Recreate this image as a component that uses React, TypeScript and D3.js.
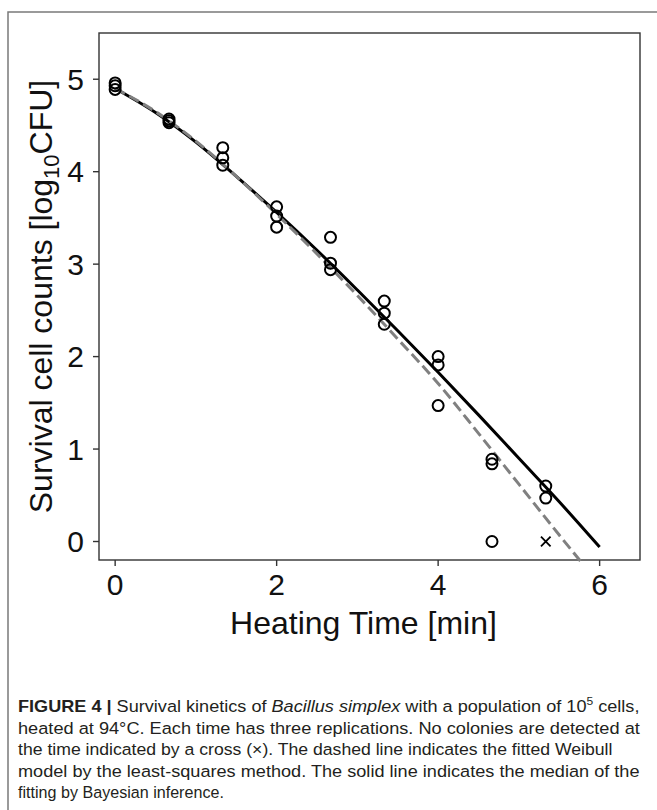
import React, { useLayoutEffect, useRef } from "react";
import * as d3 from "d3";

// Observations: heating time [min] and three replicate plate counts [log10 CFU]
const heatingTime = [0, 0.667, 1.333, 2, 2.667, 3.333, 4, 4.667, 5.333];
const replicateA = [4.96, 4.57, 4.26, 3.62, 3.29, 2.6, 2.0, 0.89, 0.6];
const replicateB = [4.93, 4.55, 4.15, 3.52, 3.01, 2.47, 1.91, 0.84, 0.47];
const replicateC = [4.89, 4.53, 4.07, 3.4, 2.94, 2.35, 1.47, 0.0, null];

// Replicate with no detected colonies
const undetectedTime = [5.333];
const undetectedLevel = [0.0];

// Bayesian median fit
const bayesTime = [0, 0.5, 1, 1.5, 2, 2.5, 3, 3.5, 4, 4.5, 5, 5.5, 6];
const bayesMedian = [4.9, 4.64, 4.32, 3.95, 3.56, 3.15, 2.72, 2.28, 1.83, 1.37, 0.9, 0.43, -0.06];

// Least-squares Weibull fit
const lsqTime = [0, 0.5, 1, 1.5, 2, 2.5, 3, 3.5, 4, 4.5, 5, 5.5, 5.77];
const lsqWeibull = [4.9, 4.65, 4.33, 3.95, 3.54, 3.11, 2.66, 2.19, 1.71, 1.17, 0.62, 0.07, -0.22];

const xTicks = [0, 2, 4, 6];
const yTicks = [0, 1, 2, 3, 4, 5];

type Seg = { t: string; b?: boolean; i?: boolean; sup?: boolean };
const captionLines: Seg[][] = [
  [
    { t: "FIGURE 4 | ", b: true },
    { t: "Survival kinetics of " },
    { t: "Bacillus simplex", i: true },
    { t: " with a population of 10" },
    { t: "5", sup: true },
    { t: " cells," },
  ],
  [{ t: "heated at 94°C. Each time has three replications. No colonies are detected at" }],
  [{ t: "the time indicated by a cross (×). The dashed line indicates the fitted Weibull" }],
  [{ t: "model by the least-squares method. The solid line indicates the median of the" }],
  [{ t: "fitting by Bayesian inference." }],
];
const captionWidths = [622, 622, 595, 622, 206];

const W = 657;
const H = 810;
const M = { left: 99, right: 640, top: 33, bottom: 560 };
const FONT = "'Liberation Sans', Arial, Helvetica, sans-serif";
const AXIS = "#333";

export default function App() {
  const captionRefs = useRef<(SVGTextElement | null)[]>([]);

  const x = d3.scaleLinear().domain([-0.2, 6.5]).range([M.left, M.right]);
  const y = d3.scaleLinear().domain([-0.2, 5.5]).range([M.bottom, M.top]);

  const line = d3
    .line<[number, number]>()
    .x((d) => x(d[0]))
    .y((d) => y(d[1]))
    .curve(d3.curveMonotoneX);

  const bayesPath = line(bayesTime.map((t, k) => [t, bayesMedian[k]] as [number, number])) || "";
  const lsqPath = line(lsqTime.map((t, k) => [t, lsqWeibull[k]] as [number, number])) || "";

  const points: { t: number; v: number }[] = [];
  [replicateA, replicateB, replicateC].forEach((rep) =>
    rep.forEach((v, k) => {
      if (v !== null) points.push({ t: heatingTime[k], v });
    })
  );

  useLayoutEffect(() => {
    captionRefs.current.forEach((el, k) => {
      if (!el) return;
      const w = el.getComputedTextLength();
      if (w > 0) el.setAttribute("transform", `scale(${captionWidths[k] / w},1)`);
    });
  }, []);

  const cs = 4.8;

  return (
    <svg
      width={W}
      height={H}
      style={{ position: "absolute", left: 0, top: 0, background: "#fff" }}
      fontFamily={FONT}
    >
      <rect x={0} y={0} width={W} height={H} fill="#fff" />
      {/* outer figure frame */}
      <path d={`M8,${H} V12 H${W}`} fill="none" stroke="#7a7a7a" strokeWidth={1.5} />

      {/* plot frame */}
      <rect
        x={M.left}
        y={M.top}
        width={M.right - M.left}
        height={M.bottom - M.top}
        fill="none"
        stroke={AXIS}
        strokeWidth={1.4}
      />

      {/* x ticks */}
      {xTicks.map((t) => (
        <g key={"x" + t}>
          <line x1={x(t)} x2={x(t)} y1={M.bottom} y2={M.bottom + 6} stroke={AXIS} strokeWidth={1.4} />
          <text x={x(t)} y={595} textAnchor="middle" fontSize={30} fill="#111">
            {t}
          </text>
        </g>
      ))}

      {/* y ticks */}
      {yTicks.map((v) => (
        <g key={"y" + v}>
          <line x1={M.left - 6} x2={M.left} y1={y(v)} y2={y(v)} stroke={AXIS} strokeWidth={1.4} />
          <text x={84} y={y(v) + 10.5} textAnchor="end" fontSize={30} fill="#111">
            {v}
          </text>
        </g>
      ))}

      {/* axis titles */}
      <text x={(M.left + M.right) / 2 - 6} y={634} textAnchor="middle" fontSize={32} fill="#111">
        Heating Time [min]
      </text>
      <text
        transform={`translate(52,${(M.top + M.bottom) / 2}) rotate(-90)`}
        textAnchor="middle"
        fontSize={32}
        fill="#111"
      >
        Survival cell counts [log
        <tspan fontSize={22} dy={7}>
          10
        </tspan>
        <tspan dy={-7}>CFU]</tspan>
      </text>

      {/* fitted curves */}
      <path d={bayesPath} fill="none" stroke="#000" strokeWidth={3} />
      <path d={lsqPath} fill="none" stroke="#808080" strokeWidth={3} strokeDasharray="11,5" />

      {/* observations */}
      {points.map((p, k) => (
        <circle key={k} cx={x(p.t)} cy={y(p.v)} r={5.5} fill="none" stroke="#000" strokeWidth={2} />
      ))}
      {undetectedTime.map((t, k) => (
        <path
          key={"u" + k}
          d={`M${x(t) - cs},${y(undetectedLevel[k]) - cs}L${x(t) + cs},${y(undetectedLevel[k]) + cs}M${x(t) - cs},${y(undetectedLevel[k]) + cs}L${x(t) + cs},${y(undetectedLevel[k]) - cs}`}
          stroke="#000"
          strokeWidth={1.8}
          fill="none"
        />
      ))}

      {/* caption */}
      {captionLines.map((segs, k) => (
        <g key={"c" + k} transform={`translate(18,${712 + k * 21.5})`}>
          <text
            ref={(el) => {
              captionRefs.current[k] = el;
            }}
            x={0}
            y={0}
            fontSize={16.5}
            fill="#231f20"
          >
            {segs.map((s, j) => (
              <tspan
                key={j}
                fontWeight={s.b ? "bold" : undefined}
                fontStyle={s.i ? "italic" : undefined}
                fontSize={s.sup ? 11 : undefined}
                dy={s.sup ? -7 : j > 0 && segs[j - 1].sup ? 7 : undefined}
              >
                {s.t}
              </tspan>
            ))}
          </text>
        </g>
      ))}
    </svg>
  );
}
